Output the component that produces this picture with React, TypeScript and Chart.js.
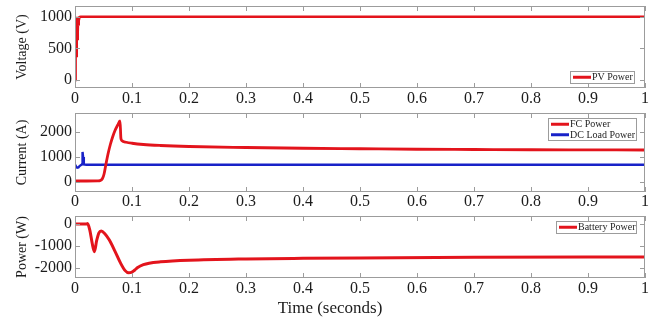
import React, { useEffect, useRef } from 'react';
import { Chart, registerables } from 'chart.js';

Chart.register(...registerables);

// ---------- data ----------
const xTickValues = [0, 0.1, 0.2, 0.3, 0.4, 0.5, 0.6, 0.7, 0.8, 0.9, 1];
const xTickLabels = ['0', '0.1', '0.2', '0.3', '0.4', '0.5', '0.6', '0.7', '0.8', '0.9', '1'];

const voltageTicks = [0, 500, 1000];
const currentTicks = [0, 1000, 2000];
const powerTicks = [-2000, -1000, 0];

const pvTime = [0, 0.0005, 0.001, 0.0015, 0.002, 0.0025, 0.003, 0.0035, 0.004, 0.0045, 0.005, 0.0055, 0.006, 0.0065, 0.007, 0.008, 0.01, 0.05, 0.2, 0.5, 1];
const pvVoltage = [0, 1000, 220, 1000, 380, 1000, 520, 1000, 650, 1000, 760, 1000, 860, 1000, 940, 995, 1000, 1000, 1000, 1000, 1000];

const fcTime = [0, 0.02, 0.04, 0.044, 0.048, 0.051, 0.054, 0.058, 0.062, 0.066, 0.07, 0.075, 0.079, 0.0805, 0.082, 0.09, 0.1, 0.12, 0.15, 0.2, 0.3, 0.4, 0.5, 0.6, 0.7, 0.8, 0.9, 1];
const fcCurrent = [40, 40, 45, 55, 130, 320, 680, 1130, 1500, 1800, 2050, 2280, 2440, 1760, 1660, 1590, 1550, 1500, 1460, 1420, 1380, 1350, 1330, 1310, 1300, 1290, 1285, 1280];

const loadTime = [0, 0.002, 0.004, 0.006, 0.008, 0.0105, 0.0115, 0.0125, 0.013, 0.0135, 0.0142, 0.0155, 0.02, 0.05, 1];
const loadCurrent = [700, 620, 570, 580, 640, 680, 690, 720, 1100, 1200, 1000, 700, 690, 690, 690];

const battTime = [0, 0.02, 0.022, 0.026, 0.03, 0.034, 0.038, 0.042, 0.046, 0.052, 0.06, 0.07, 0.08, 0.088, 0.094, 0.1, 0.105, 0.11, 0.12, 0.13, 0.15, 0.2, 0.3, 0.4, 0.5, 0.7, 1];
const battPower = [0, 0, 20, -280, -850, -1260, -750, -400, -320, -430, -720, -1230, -1780, -2120, -2220, -2190, -2090, -1980, -1850, -1780, -1720, -1650, -1590, -1560, -1540, -1515, -1500];

// ---------- styling ----------
const SERIF = '"Liberation Serif", "Times New Roman", serif';
const RED = '#e3141c';
const BLUE = '#1822c8';
const TEXT = '#1c1c1c';
const FRAME = '#9c9c9c';

const pts = (t: number[], v: number[]) => t.map((x, i) => ({ x, y: v[i] }));

const framePlugin = {
  id: 'frame',
  afterDatasetsDraw(chart: any, _args: any, opts: any) {
    const { ctx, chartArea: a, scales } = chart;
    ctx.save();
    ctx.strokeStyle = FRAME;
    ctx.lineWidth = 1;
    ctx.strokeRect(Math.round(a.left) + 0.5, Math.round(a.top) + 0.5, Math.round(a.right - a.left) - 1, Math.round(a.bottom - a.top) - 1);
    ctx.beginPath();
    for (const v of xTickValues) {
      const x = Math.round(scales.x.getPixelForValue(v)) + 0.5;
      ctx.moveTo(x, a.bottom);
      ctx.lineTo(x, a.bottom - 5);
      ctx.moveTo(x, a.top);
      ctx.lineTo(x, a.top + 5);
    }
    for (const v of opts.yTicks) {
      const y = Math.round(scales.y.getPixelForValue(v)) + 0.5;
      ctx.moveTo(a.left, y);
      ctx.lineTo(a.left + 5, y);
      ctx.moveTo(a.right, y);
      ctx.lineTo(a.right - 5, y);
    }
    ctx.stroke();

    // legend
    const ds = chart.data.datasets;
    ctx.font = `10px ${SERIF}`;
    const rowH = 10.5;
    let tw = 0;
    for (const d of ds) tw = Math.max(tw, ctx.measureText(d.label).width);
    const w = Math.round(22 + tw + 2);
    const h = Math.round(ds.length * rowH + 2);
    const right = Math.round(a.right) - opts.legendRight;
    const x0 = right - w;
    const y0 = opts.legendAnchor === 'top' ? Math.round(a.top) + opts.legendOffset : Math.round(a.bottom) - opts.legendOffset - h;
    ctx.fillStyle = '#ffffff';
    ctx.fillRect(x0, y0, w, h);
    ctx.strokeStyle = FRAME;
    ctx.strokeRect(x0 + 0.5, y0 + 0.5, w - 1, h - 1);
    ds.forEach((d: any, i: number) => {
      const yy = y0 + 1 + rowH * i + rowH / 2;
      ctx.beginPath();
      ctx.strokeStyle = d.borderColor;
      ctx.lineWidth = 3;
      ctx.moveTo(x0 + 3, yy);
      ctx.lineTo(x0 + 21, yy);
      ctx.stroke();
      ctx.fillStyle = TEXT;
      ctx.textBaseline = 'middle';
      ctx.textAlign = 'left';
      ctx.fillText(d.label, x0 + 22, yy + 0.5);
    });

    // x-axis title (MATLAB-style, centred on the figure rather than the axes)
    if (opts.xTitle) {
      ctx.font = `17px ${SERIF}`;
      ctx.fillStyle = TEXT;
      ctx.textAlign = 'center';
      ctx.textBaseline = 'middle';
      ctx.fillText(opts.xTitle, opts.xTitleX, opts.xTitleY);
    }
    ctx.restore();
  },
};

type PanelCfg = {
  top: number;
  height: number;
  areaTop: number;
  areaBottom: number;
  yMin: number;
  yMax: number;
  yTicks: number[];
  yTitle: string;
  xTitle?: string;
  xPad: number;
  datasets: any[];
  legendAnchor: 'top' | 'bottom';
  legendOffset: number;
  legendRight: number;
};

const panels: PanelCfg[] = [
  {
    top: 0, height: 108, areaTop: 6, areaBottom: 88,
    yMin: -127, yMax: 1170, yTicks: voltageTicks, yTitle: 'Voltage (V)', xPad: 1,
    datasets: [
      { label: 'PV Power', data: pts(pvTime, pvVoltage), borderColor: RED, borderWidth: 2.6, tension: 0 },
    ],
    legendAnchor: 'bottom', legendOffset: 4, legendRight: 10,
  },
  {
    top: 104, height: 102, areaTop: 113, areaBottom: 192,
    yMin: -400, yMax: 2760, yTicks: currentTicks, yTitle: 'Current (A)', xPad: 0,
    datasets: [
      { label: 'FC Power', data: pts(fcTime, fcCurrent), borderColor: RED, borderWidth: 2.8, cubicInterpolationMode: 'monotone' },
      { label: 'DC Load Power', data: pts(loadTime, loadCurrent), borderColor: BLUE, borderWidth: 2.4, tension: 0 },
    ],
    legendAnchor: 'top', legendOffset: 5, legendRight: 8,
  },
  {
    top: 204, height: 117, areaTop: 216, areaBottom: 278,
    yMin: -2455, yMax: 364, yTicks: powerTicks, yTitle: 'Power (W)', xTitle: 'Time (seconds)', xPad: 1,
    datasets: [
      { label: 'Battery Power', data: pts(battTime, battPower), borderColor: RED, borderWidth: 3, cubicInterpolationMode: 'monotone' },
    ],
    legendAnchor: 'top', legendOffset: 5, legendRight: 8,
  },
];

function Panel({ cfg }: { cfg: PanelCfg }) {
  const ref = useRef<HTMLCanvasElement | null>(null);
  useEffect(() => {
    if (!ref.current) return;
    const xAxisH = cfg.top + cfg.height - cfg.areaBottom;
    const chart = new Chart(ref.current, {
      type: 'line',
      data: {
        datasets: cfg.datasets.map((d) => ({ ...d, pointRadius: 0, fill: false })),
      },
      options: {
        animation: false,
        responsive: false,
        maintainAspectRatio: false,
        layout: { padding: { top: cfg.areaTop - cfg.top, right: 7, left: 0, bottom: 0 } },
        plugins: {
          legend: { display: false },
          tooltip: { enabled: false },
          frame: {
            yTicks: cfg.yTicks,
            legendAnchor: cfg.legendAnchor,
            legendOffset: cfg.legendOffset,
            legendRight: cfg.legendRight,
            xTitle: cfg.xTitle,
            xTitleX: 330,
            xTitleY: 309 - cfg.top,
          },
        } as any,
        scales: {
          x: {
            type: 'linear',
            min: 0,
            max: 1,
            afterBuildTicks: (s: any) => {
              s.ticks = xTickValues.map((v) => ({ value: v }));
            },
            afterFit: (s: any) => {
              s.height = xAxisH;
              s.paddingLeft = 0;
              s.paddingRight = 0;
            },
            ticks: {
              autoSkip: false,
              maxRotation: 0,
              padding: cfg.xPad,
              color: TEXT,
              font: { family: SERIF, size: 16 },
              callback: (_v: any, i: number) => xTickLabels[i],
            },
            grid: { display: false, drawTicks: false },
            border: { display: false },
          },
          y: {
            type: 'linear',
            min: cfg.yMin,
            max: cfg.yMax,
            afterBuildTicks: (s: any) => {
              s.ticks = cfg.yTicks.map((v) => ({ value: v }));
            },
            afterFit: (s: any) => {
              s.width = 75;
              s.paddingTop = 0;
              s.paddingBottom = 0;
            },
            ticks: {
              padding: 3,
              color: TEXT,
              font: { family: SERIF, size: 16 },
              callback: (v: any) => String(v),
            },
            grid: { display: false, drawTicks: false },
            border: { display: false },
            title: {
              display: true,
              text: cfg.yTitle,
              color: TEXT,
              font: { family: SERIF, size: 14 },
              padding: { top: 14, bottom: 0 },
            },
          },
        },
      } as any,
      plugins: [framePlugin as any],
    });
    return () => chart.destroy();
  }, []);
  return (
    <canvas
      ref={ref}
      width={652}
      height={cfg.height}
      style={{ position: 'absolute', left: 0, top: cfg.top, display: 'block' }}
    />
  );
}

export default function App() {
  return (
    <div style={{ position: 'fixed', left: 0, top: 0, width: 652, height: 321, background: '#ffffff', overflow: 'hidden' }}>
      {panels.map((p, i) => (
        <Panel key={i} cfg={p} />
      ))}
    </div>
  );
}
